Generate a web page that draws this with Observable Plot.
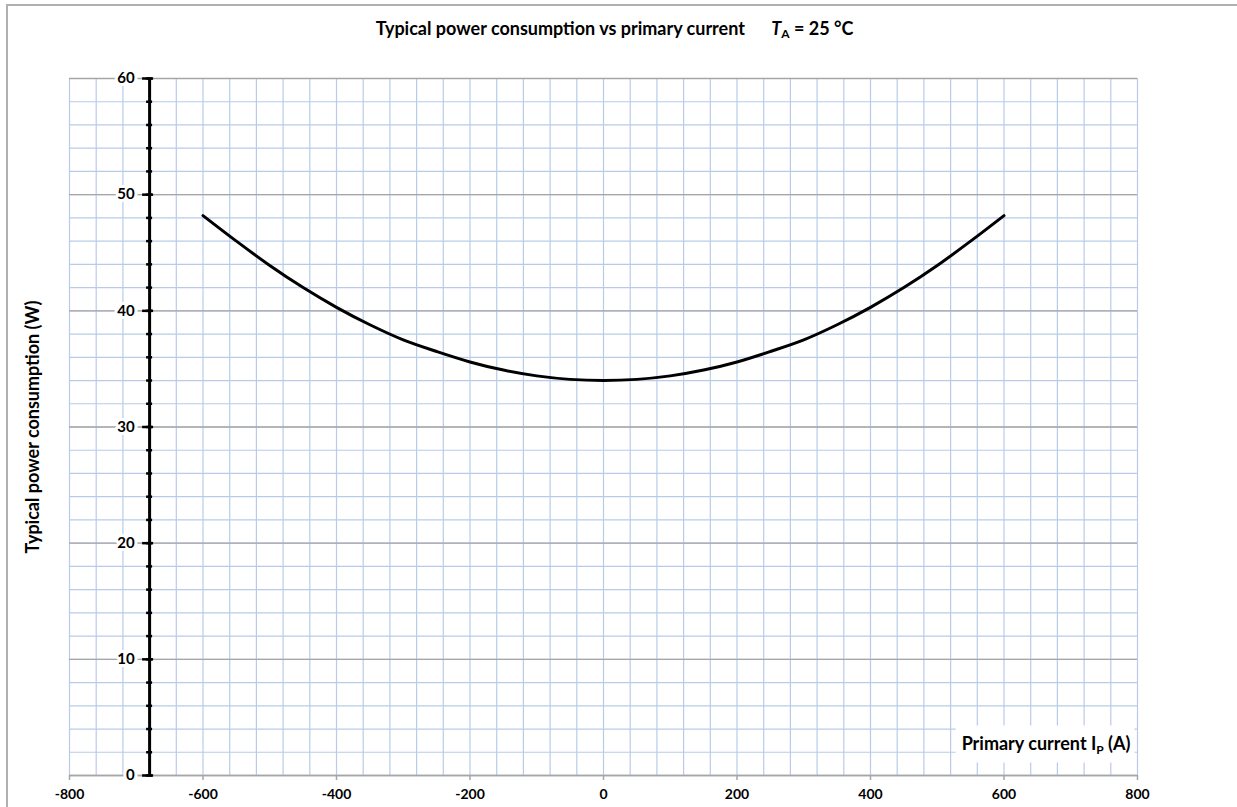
<!DOCTYPE html>
<html><head><meta charset="utf-8">
<script src="https://cdn.jsdelivr.net/npm/d3@7"></script>
<script src="https://cdn.jsdelivr.net/npm/@observablehq/plot@0.6"></script>
<style>
html,body{margin:0;padding:0;background:#fff;}
#wrap{position:relative;width:1237px;height:807px;overflow:hidden;font-family:Lato,"Open Sans",sans-serif;}
#frame{position:absolute;left:6px;top:4px;right:0;bottom:0;border-top:2px solid #b0b0b0;border-left:2px solid #b0b0b0;pointer-events:none;}
#title{height:50px;line-height:56px;text-align:center;font-weight:bold;font-size:18px;color:#000;padding-right:8px;}
#title sub{font-size:12px;vertical-align:-3px;line-height:0;}
</style></head>
<body><div id="wrap"><div id="frame"></div>
<div id="title">Typical power consumption vs primary current&nbsp;&nbsp;&nbsp;&nbsp;&nbsp; <i>T</i><sub>A</sub> = 25 °C</div>
<div id="chart"></div></div>
<script>
// data
const current = [-600,-550,-500,-450,-400,-350,-300,-250,-200,-150,-100,-50,0,50,100,150,200,250,300,350,400,450,500,550,600];
const power   = [48.2,46.0,43.9,42.0,40.3,38.8,37.5,36.5,35.6,34.9,34.4,34.1,34.0,34.1,34.4,34.9,35.6,36.5,37.5,38.8,40.3,42.0,43.9,46.0,48.2];
const xTicks = [-800,-600,-400,-200,0,200,400,600,800];
const xMinorGrid = [-800,-760,-720,-680,-640,-600,-560,-520,-480,-440,-400,-360,-320,-280,-240,-200,-160,-120,-80,-40,0,40,80,120,160,200,240,280,320,360,400,440,480,520,560,600,640,680,720,760,800];
const yTicks = [0,10,20,30,40,50,60];
const yMinor = [0,2,4,6,8,10,12,14,16,18,20,22,24,26,28,30,32,34,36,38,40,42,44,46,48,50,52,54,56,58,60];
const yAxisAt = -680;
const xLabel = ["Primary current I", "P", " (A)"];
const yLabel = "Typical power consumption (W)";

const data = current.map((c,i)=>({c, p: power[i]}));
const font = "Lato, 'Open Sans', sans-serif";

const chart = Plot.plot({
  width: 1237, height: 757,
  marginTop: 28, marginBottom: 32, marginLeft: 69, marginRight: 100,
  style: {fontFamily: font, background: "#fff"},
  x: {type: "linear", domain: [-800, 800], axis: null},
  y: {type: "linear", domain: [0, 60], axis: null},
  marks: [
    Plot.ruleX(xMinorGrid, {x: d=>d, y1: 0, y2: 60, stroke: "#b9cbe9", strokeWidth: 1.2}),
    Plot.ruleY(yMinor, {y: d=>d, x1: -800, x2: 800, stroke: "#b9cbe9", strokeWidth: 1.2}),
    Plot.ruleY(yTicks, {y: d=>d, x1: -800, x2: 800, stroke: "#a6a6a6", strokeWidth: 1.3}),
    // x axis (bottom)
    Plot.ruleY([0], {y: d=>d, x1: -800, x2: 800, stroke: "#a6a6a6", strokeWidth: 1.5}),
    Plot.ruleX(xTicks, {x: d=>d, y1: 0, y2: 0, insetBottom: -5, stroke: "#a6a6a6", strokeWidth: 1.5}),
    Plot.text(xTicks, {x: d=>d, frameAnchor: "bottom", dy: 23, text: d=>String(d), fontWeight: "bold", fontSize: 14, fill: "#000"}),
    // y axis at x = -680
    Plot.ruleX([yAxisAt], {x: d=>d, y1: 0, y2: 60, stroke: "#000", strokeWidth: 3}),
    Plot.ruleY(yMinor, {y: d=>d, x1: yAxisAt, x2: yAxisAt, insetLeft: -3, insetRight: -3, stroke: "#000", strokeWidth: 2.5}),
    Plot.ruleY(yTicks, {y: d=>d, x1: yAxisAt, x2: yAxisAt, insetLeft: -7, insetRight: -4, stroke: "#000", strokeWidth: 2.5}),
    Plot.text(yTicks, {x: yAxisAt, y: d=>d, dx: -15, textAnchor: "end", text: d=>String(d), fontWeight: "bold", fontSize: 15, fill: "#000", stroke: "#fff", strokeWidth: 6, paintOrder: "stroke"}),
    Plot.text([yLabel], {frameAnchor: "left", dx: -36, rotate: -90, textAnchor: "middle", text: d=>d, fontWeight: "bold", fontSize: 18, fill: "#000"}),
    // curve
    Plot.line(data, {x: "c", y: "p", curve: "catmull-rom", stroke: "#000", strokeWidth: 3}),
    // x label
    Plot.text([xLabel.join("")], {frameAnchor: "bottom-right", dx: -7, dy: -26, textAnchor: "end", text: d=>d, fontWeight: "bold", fontSize: 18, fill: "#000", className: "xlab"})
  ]
});
document.getElementById("chart").appendChild(chart);

// subscript + white background for the x label
const t = d3.select(chart).select("g.xlab text");
if (!t.empty()) {
  t.text(null);
  t.append("tspan").text(xLabel[0]);
  t.append("tspan").attr("font-size", 12).attr("dy", 4).text(xLabel[1]);
  t.append("tspan").attr("dy", -4).text(xLabel[2]);
  const bb = t.node().getBBox();
  const g = t.node().parentNode;
  const tr = t.attr("transform");
  d3.select(g).insert("rect", "text")
    .attr("x", bb.x - 6).attr("y", bb.y - 6)
    .attr("width", bb.width + 10).attr("height", bb.height + 12)
    .attr("transform", tr).attr("fill", "#fff");
}
</script></body></html>
